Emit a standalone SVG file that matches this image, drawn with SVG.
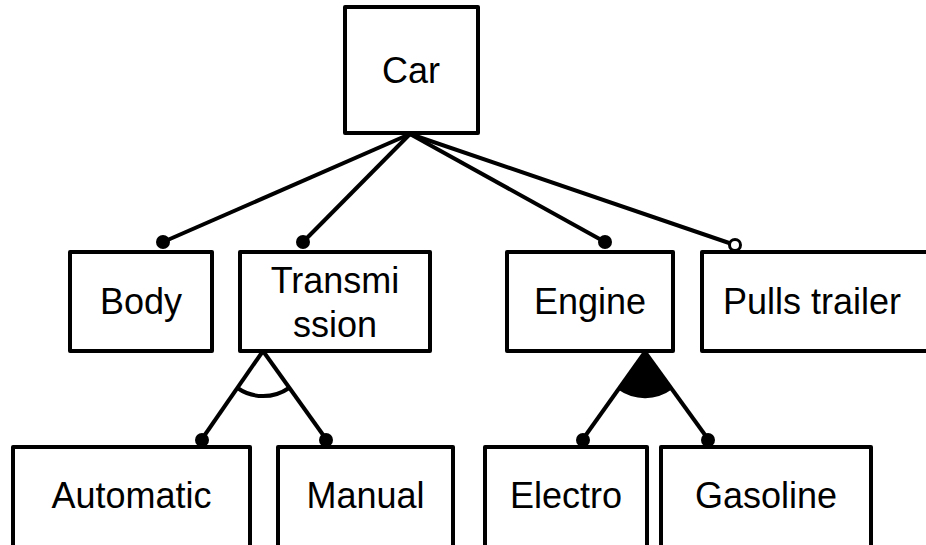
<svg xmlns="http://www.w3.org/2000/svg" width="926" height="545" viewBox="0 0 926 545">
<style>
.box{fill:#fff;stroke:#000;stroke-width:4;stroke-linejoin:round}
.lbl{font-family:"Liberation Sans",Arial,sans-serif;font-size:36px;fill:#000;text-anchor:middle}
.ln{stroke:#000;stroke-width:4;fill:none}
.dot{fill:#000}
.odot{fill:#fff;stroke:#000;stroke-width:3}
</style>
<rect width="926" height="545" fill="#fff"/>
<g id="connectors">
<line class="ln" x1="410" y1="134" x2="163" y2="242"/>
<line class="ln" x1="410" y1="134" x2="303" y2="242"/>
<line class="ln" x1="410" y1="134" x2="605" y2="242"/>
<line class="ln" x1="410" y1="134" x2="735" y2="245"/>
<line class="ln" x1="263" y1="351" x2="202" y2="439"/>
<line class="ln" x1="263" y1="351" x2="326" y2="439"/>
<path class="ln" d="M237.5 388 A45 45 0 0 0 289 388" stroke-width="3"/>
<line class="ln" x1="645" y1="352" x2="583" y2="439"/>
<line class="ln" x1="645" y1="352" x2="708" y2="439"/>
<path d="M645 352 L619 389 A45 45 0 0 0 671.5 388.5 Z" fill="#000" stroke="#000" stroke-width="2"/>
<circle class="dot" cx="163" cy="242" r="7"/>
<circle class="dot" cx="303" cy="242" r="7"/>
<circle class="dot" cx="605" cy="242" r="7"/>
<circle class="odot" cx="735" cy="245" r="5.5"/>
<circle class="dot" cx="202" cy="440" r="7"/>
<circle class="dot" cx="326" cy="440" r="7"/>
<circle class="dot" cx="583" cy="440" r="7"/>
<circle class="dot" cx="708" cy="440" r="7"/>
</g>
<g id="car"><rect class="box" x="345" y="7" width="133" height="126"/><text class="lbl" x="411" y="83">Car</text></g>
<g id="body"><rect class="box" x="70" y="252" width="142" height="99"/><text class="lbl" x="141" y="314">Body</text></g>
<g id="transmission"><rect class="box" x="240" y="252" width="190" height="99"/><text class="lbl" x="335" y="293">Transmi</text><text class="lbl" x="335" y="337">ssion</text></g>
<g id="engine"><rect class="box" x="507" y="252" width="166" height="99"/><text class="lbl" x="590" y="314">Engine</text></g>
<g id="pulls-trailer"><rect class="box" x="702" y="252" width="230" height="99"/><text class="lbl" x="812" y="314">Pulls trailer</text></g>
<g id="automatic"><rect class="box" x="13" y="447" width="237" height="102"/><text class="lbl" x="131.5" y="508">Automatic</text></g>
<g id="manual"><rect class="box" x="278" y="447" width="175" height="102"/><text class="lbl" x="365.5" y="508">Manual</text></g>
<g id="electro"><rect class="box" x="485" y="447" width="162" height="102"/><text class="lbl" x="566" y="508">Electro</text></g>
<g id="gasoline"><rect class="box" x="661" y="447" width="210" height="102"/><text class="lbl" x="766" y="508">Gasoline</text></g>
</svg>
